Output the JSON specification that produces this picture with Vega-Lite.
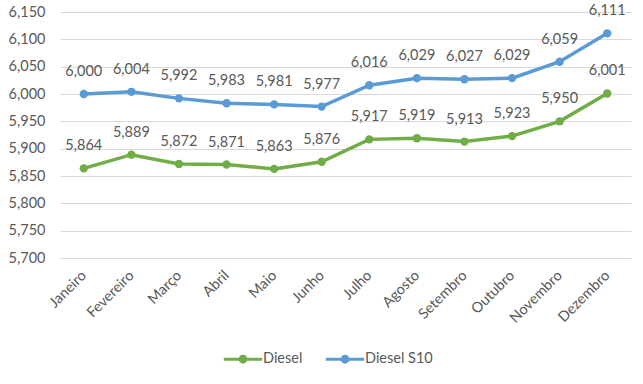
{
  "$schema": "https://vega.github.io/schema/vega-lite/v6.json",
  "width": 571,
  "height": 246,
  "autosize": {"type": "none"},
  "padding": {"left": 60, "top": 12, "right": 12, "bottom": 126},
  "background": "white",
  "config": {
    "view": {"stroke": null},
    "font": "Lato",
    "axis": {"labelColor": "#595959", "labelFont": "Lato", "labelFontSize": 14.5, "gridColor": "#D9D9D9", "gridWidth": 1, "ticks": false, "domain": false},
    "legend": {"labelColor": "#595959", "labelFont": "Lato", "labelFontSize": 14.5}
  },
  "data": {
    "values": [
      {"mes": "Janeiro", "serie": "Diesel", "valor": 5864},
      {"mes": "Fevereiro", "serie": "Diesel", "valor": 5889},
      {"mes": "Março", "serie": "Diesel", "valor": 5872},
      {"mes": "Abril", "serie": "Diesel", "valor": 5871},
      {"mes": "Maio", "serie": "Diesel", "valor": 5863},
      {"mes": "Junho", "serie": "Diesel", "valor": 5876},
      {"mes": "Julho", "serie": "Diesel", "valor": 5917},
      {"mes": "Agosto", "serie": "Diesel", "valor": 5919},
      {"mes": "Setembro", "serie": "Diesel", "valor": 5913},
      {"mes": "Outubro", "serie": "Diesel", "valor": 5923},
      {"mes": "Novembro", "serie": "Diesel", "valor": 5950},
      {"mes": "Dezembro", "serie": "Diesel", "valor": 6001},
      {"mes": "Janeiro", "serie": "Diesel S10", "valor": 6000},
      {"mes": "Fevereiro", "serie": "Diesel S10", "valor": 6004},
      {"mes": "Março", "serie": "Diesel S10", "valor": 5992},
      {"mes": "Abril", "serie": "Diesel S10", "valor": 5983},
      {"mes": "Maio", "serie": "Diesel S10", "valor": 5981},
      {"mes": "Junho", "serie": "Diesel S10", "valor": 5977},
      {"mes": "Julho", "serie": "Diesel S10", "valor": 6016},
      {"mes": "Agosto", "serie": "Diesel S10", "valor": 6029},
      {"mes": "Setembro", "serie": "Diesel S10", "valor": 6027},
      {"mes": "Outubro", "serie": "Diesel S10", "valor": 6029},
      {"mes": "Novembro", "serie": "Diesel S10", "valor": 6059},
      {"mes": "Dezembro", "serie": "Diesel S10", "valor": 6111}
    ]
  },
  "encoding": {
    "x": {
      "field": "mes", "type": "ordinal",
      "sort": ["Janeiro","Fevereiro","Março","Abril","Maio","Junho","Julho","Agosto","Setembro","Outubro","Novembro","Dezembro"],
      "scale": {"paddingInner": 1, "paddingOuter": 0.5},
      "axis": {"title": null, "labelAngle": -45, "labelAlign": "right", "labelBaseline": "middle", "labelPadding": 15, "grid": false, "domain": true, "domainColor": "#D9D9D9"}
    },
    "y": {
      "field": "valor", "type": "quantitative",
      "scale": {"domain": [5700, 6150], "nice": false, "zero": false},
      "axis": {"title": null, "values": [5700,5750,5800,5850,5900,5950,6000,6050,6100,6150], "format": ",.0f", "labelPadding": 15}
    }
  },
  "layer": [
    {
      "mark": {"type": "line", "strokeWidth": 3.5, "point": {"filled": true, "size": 70}},
      "encoding": {
        "color": {
          "field": "serie", "type": "nominal",
          "scale": {"domain": ["Diesel", "Diesel S10"], "range": ["#70AD47", "#5B9BD5"]},
          "legend": {
            "title": null, "orient": "none", "direction": "horizontal",
            "legendX": 175, "legendY": 339,
            "symbolType": "M-2.4,-0.19H2.4V0.19H-2.4Z M0.55,0 A0.55,0.55 0 1,1 -0.55,0 A0.55,0.55 0 1,1 0.55,0Z",
            "symbolSize": 256, "symbolStrokeWidth": 0, "labelOffset": 12, "columnPadding": 22,
            "encode": {"symbols": {"update": {"fill": {"scale": "color", "field": "value"}, "strokeWidth": {"value": 0}}}}
          }
        }
      }
    },
    {
      "mark": {"type": "text", "dy": -22, "color": "#595959", "fontSize": 14.5, "font": "Lato"},
      "encoding": {
        "text": {"field": "valor", "type": "quantitative", "format": ",.0f"},
        "detail": {"field": "serie"}
      }
    }
  ]
}
